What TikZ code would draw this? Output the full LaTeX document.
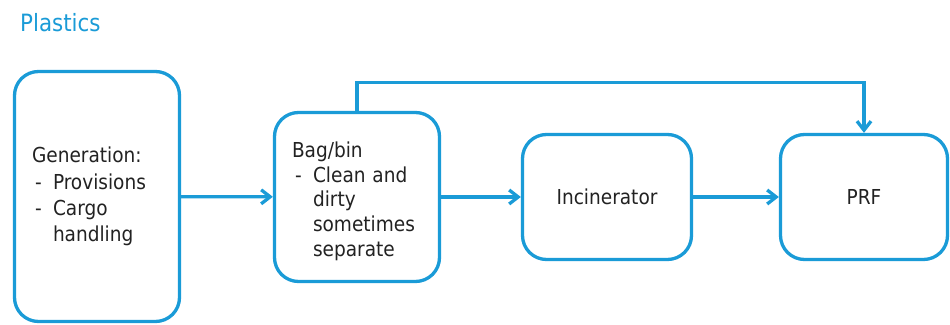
\documentclass[tikz,border=0pt]{standalone}
\usepackage{fontspec}
\setmainfont{DejaVu Sans Condensed}
\usetikzlibrary{arrows.meta}

\definecolor{flowblue}{HTML}{1A9BD7}
\definecolor{flowtext}{HTML}{222222}

% guion de la lista
\newcommand{\itemdash}{\makebox[21pt][l]{\hspace{3pt}-}}
\newcommand{\itemgap}{\hspace*{21pt}}

\tikzset{
  box/.style={draw=flowblue, line width=3.3pt, rounded corners=24pt, text=flowtext,
    font=\fontsize{20.6}{25.5}\selectfont},
  listbox/.style={box, align=left, inner xsep=17.5pt, text width=130pt},
  namebox/.style={box, align=center},
  flow/.style={draw=flowblue, line width=3.3pt, -{Straight Barb[length=9pt,width=14pt]}}
}

\begin{document}
\begin{tikzpicture}[x=1pt, y=1pt]
\useasboundingbox (0,0) rectangle (950,324);

% titulo
\node[anchor=base west, inner sep=0pt, text=flowblue, font=\fontsize{23.8}{28}\selectfont]
  (title) at (20,292.5) {Plastics};

% cajas
\node[listbox, font=\fontsize{20.6}{26.3}\selectfont, minimum width=165pt, minimum height=250pt]
  (gen) at (97,127.5)
  {Generation:\\ \itemdash Provisions\\ \itemdash Cargo\\ \itemgap handling};
\node[listbox, font=\fontsize{20.6}{24.8}\selectfont, minimum width=165pt, minimum height=169pt]
  (bag) at (357,127)
  {\rule{0pt}{24pt}Bag/bin\\ \itemdash Clean and\\ \itemgap dirty\\ \itemgap sometimes\\ \itemgap separate};
\node[namebox, minimum width=169pt, minimum height=125pt] (inc) at (607,127) {Incinerator};
\node[namebox, minimum width=167pt, minimum height=125pt] (prf) at (864,127) {PRF};

% flechas
\draw[flow] (gen) -- (bag);
\draw[flow] (bag) -- (inc);
\draw[flow] (inc) -- (prf);
\draw[flow] (bag.north) -- ++(0,28.5) -| (prf.north);
\end{tikzpicture}
\end{document}
